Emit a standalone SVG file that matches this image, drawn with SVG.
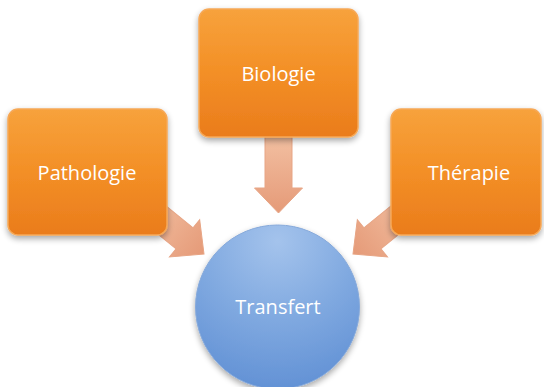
<svg xmlns="http://www.w3.org/2000/svg" width="544" height="387" viewBox="0 0 544 387">
<defs>
<linearGradient id="gBox" x1="0" y1="0" x2="0" y2="1">
<stop offset="0" stop-color="#f7a23c"/>
<stop offset="0.5" stop-color="#f38f26"/>
<stop offset="1" stop-color="#ea7c1c"/>
</linearGradient>
<linearGradient id="gArrow" x1="0" y1="0" x2="1" y2="0">
<stop offset="0" stop-color="#f3c1a3"/>
<stop offset="1" stop-color="#e59a78"/>
</linearGradient>
<radialGradient id="gCircle" cx="0.5" cy="0.1" r="0.95">
<stop offset="0" stop-color="#a4c3ec"/>
<stop offset="0.5" stop-color="#80a9e0"/>
<stop offset="1" stop-color="#5f8fd4"/>
</radialGradient>
<filter id="shadow" x="-20%" y="-20%" width="140%" height="150%">
<feGaussianBlur in="SourceAlpha" stdDeviation="3"/>
<feOffset dx="0" dy="3" result="b"/>
<feComponentTransfer><feFuncA type="linear" slope="0.35"/></feComponentTransfer>
<feMerge><feMergeNode/><feMergeNode in="SourceGraphic"/></feMerge>
</filter>
<polygon id="arrow" points="-80,-13.5 -25,-13.5 -25,-24 0,0 -25,24 -25,13.5 -80,13.5"/>
</defs>
<style>
.box{fill:url(#gBox);stroke:#f6a857;stroke-width:1.5;filter:url(#shadow)}
.arr{fill:url(#gArrow);stroke:#e7a585;stroke-width:1}
.lbl{font-family:"Open Sans","Liberation Sans",sans-serif;font-size:20px;fill:#ffffff;text-anchor:middle;dominant-baseline:central}
</style>
<rect width="544" height="387" fill="#ffffff"/>
<g id="connectors">
<use href="#arrow" class="arr" transform="translate(278.5,213) rotate(90)"/>
<use href="#arrow" class="arr" transform="translate(204,254) rotate(39)"/>
<use href="#arrow" class="arr" transform="translate(353,254) rotate(141)"/>
</g>
<g id="pathologie">
<rect class="box" x="8" y="109" width="159" height="126" rx="10"/>
<text class="lbl" x="87" y="172">Pathologie</text>
</g>
<g id="biologie">
<rect class="box" x="199" y="9" width="159" height="128" rx="10"/>
<text class="lbl" x="278.5" y="73">Biologie</text>
</g>
<g id="therapie">
<rect class="box" x="391" y="109" width="150" height="126" rx="10"/>
<text class="lbl" x="469" y="172">Thérapie</text>
</g>
<g id="transfert">
<circle cx="277.5" cy="307" r="82" fill="url(#gCircle)" stroke="#86a9da" stroke-width="1" filter="url(#shadow)"/>
<text class="lbl" x="278" y="306">Transfert</text>
</g>
</svg>
